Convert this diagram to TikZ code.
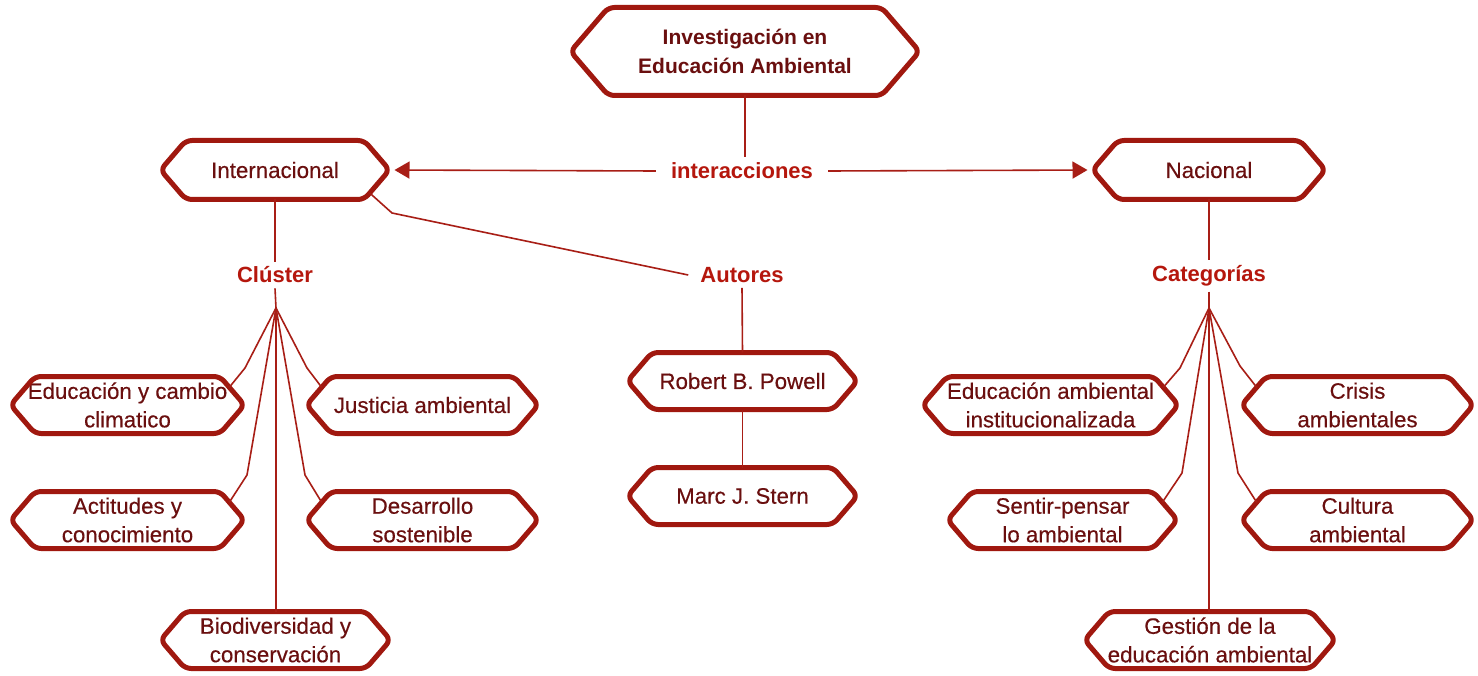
\documentclass[tikz,border=0pt]{standalone}
\usepackage{fontspec}
\setmainfont{Liberation Sans}
\newfontfamily\medfont[FakeBold=0.35]{Liberation Sans}
\usetikzlibrary{arrows.meta,calc}
\definecolor{txt}{HTML}{6A0F0F}
\definecolor{hexborder}{HTML}{A0180F}
\definecolor{lbl}{HTML}{B5170D}
\definecolor{conncol}{HTML}{A81E16}
\tikzset{
  boxtext/.style={text=txt, font=\medfont\fontsize{22.3}{28.5}\selectfont, align=center, inner sep=0pt, outer sep=0pt},
  titletext/.style={text=txt, font=\fontsize{21}{29}\selectfont\bfseries, align=center, inner sep=0pt, outer sep=0pt},
  hexline/.style={draw=hexborder, line width=5pt, rounded corners=6pt, line join=round},
  lab/.style={text=lbl, font=\fontsize{22}{26}\selectfont\bfseries, inner xsep=12pt, inner ysep=5pt},
  conn/.style={draw=conncol, line width=1.6pt},
  arr/.style={conn, -{Triangle[length=15pt,width=17pt]}, shorten >=5pt},
}
\newcommand\hexnode[7]{%
  \node[#6, minimum width=#4pt-5pt, minimum height=#5pt-5pt] (#1) at (#2,#3) {#7};
  \pgfmathsetmacro\hexch{0.43*(#5-5)}
  \coordinate (#1-tr) at ([xshift=-\hexch pt]#1.north east);
  \coordinate (#1-tl) at ([xshift=\hexch pt]#1.north west);
  \coordinate (#1-br) at ([xshift=-\hexch pt]#1.south east);
  \coordinate (#1-bl) at ([xshift=\hexch pt]#1.south west);
  \draw[hexline] (#1.west) -- (#1-tl) -- (#1-tr) -- (#1.east) -- (#1-br) -- (#1-bl) -- cycle;
}
\begin{document}
\begin{tikzpicture}[x=1pt,y=-1pt]
\useasboundingbox[fill=white] (0,0) rectangle (1478,676);

% top
\hexnode{title}{745}{51.5}{354}{93}{titletext}{Investigación en\\Educación Ambiental}
\hexnode{intl}{275}{170}{234}{64}{boxtext}{Internacional}
\hexnode{nac}{1209}{170}{238}{64}{boxtext}{Nacional}
\node[lab, inner xsep=15pt, inner ysep=6pt] (inter) at (742,171) {interacciones};

% labels
\node[lab] (cluster) at (275,275) {Clúster};
\node[lab] (autores) at (742,275) {Autores};
\node[lab] (cat) at (1209,276) {Categorías};

% left boxes
\hexnode{edcc}{127.5}{405}{239}{62}{boxtext}{Educación y cambio\\climatico}
\hexnode{justicia}{422.5}{405}{237}{62}{boxtext}{Justicia ambiental}
\hexnode{actitudes}{127.5}{520}{239}{62}{boxtext}{Actitudes y\\conocimiento}
\hexnode{desarrollo}{422.5}{520}{237}{62}{boxtext}{Desarrollo\\sostenible}
\hexnode{biodiv}{275.5}{640}{235}{62}{boxtext}{Biodiversidad y\\conservación}

% center boxes
\hexnode{powell}{742.5}{381}{235}{62}{boxtext}{Robert B. Powell}
\hexnode{stern}{742.5}{496}{235}{62}{boxtext}{Marc J. Stern}

% right boxes
\hexnode{eai}{1050.5}{405}{261}{62}{boxtext}{Educación ambiental\\institucionalizada}
\hexnode{crisis}{1357.5}{405}{237}{62}{boxtext}{Crisis\\ambientales}
\hexnode{sentir}{1062.5}{520}{235}{62}{boxtext}{Sentir-pensar\\lo ambiental}
\hexnode{cultura}{1357.5}{520}{237}{62}{boxtext}{Cultura\\ambiental}
\hexnode{gestion}{1210}{640}{256}{62}{boxtext}{Gestión de la\\educación ambiental}

% connectors top
\draw[conn] (title.south) -- (title.south |- inter.north);
\draw[arr] (inter.west) -- (intl.east);
\draw[arr] (inter.east) -- (nac.west);
\draw[conn] (intl.south) -- (cluster.north);
\draw[conn] (nac.south) -- (cat.north);
\coordinate (ab) at (392,213);
\draw[conn] ($(intl.east)!0.78!(intl-br)$) -- (ab) -- (autores.west);
\draw[conn] (autores.south) -- (powell.north);
\draw[conn] (powell.south) -- (stern.north);

% left fan
\coordinate (capex) at (276,308);
\draw[conn] (cluster.south) -- (capex);
\draw[conn] (capex) -- (245,368) -- ($(edcc.east)!0.62!(edcc-tr)$);
\draw[conn] (capex) -- (307,368) -- ($(justicia.west)!0.62!(justicia-tl)$);
\draw[conn] (capex) -- (247,475) -- ($(actitudes.east)!0.62!(actitudes-tr)$);
\draw[conn] (capex) -- (305,475) -- ($(desarrollo.west)!0.62!(desarrollo-tl)$);
\draw[conn] (capex) -- (capex |- biodiv.north);

% right fan
\coordinate (rapex) at (1209,308);
\draw[conn] (cat.south) -- (rapex);
\draw[conn] (rapex) -- (1180,368) -- ($(eai.east)!0.62!(eai-tr)$);
\draw[conn] (rapex) -- (1240,366) -- ($(crisis.west)!0.62!(crisis-tl)$);
\draw[conn] (rapex) -- (1182,473) -- ($(sentir.east)!0.62!(sentir-tr)$);
\draw[conn] (rapex) -- (1238,473) -- ($(cultura.west)!0.62!(cultura-tl)$);
\draw[conn] (rapex) -- (rapex |- gestion.north);
\end{tikzpicture}
\end{document}
